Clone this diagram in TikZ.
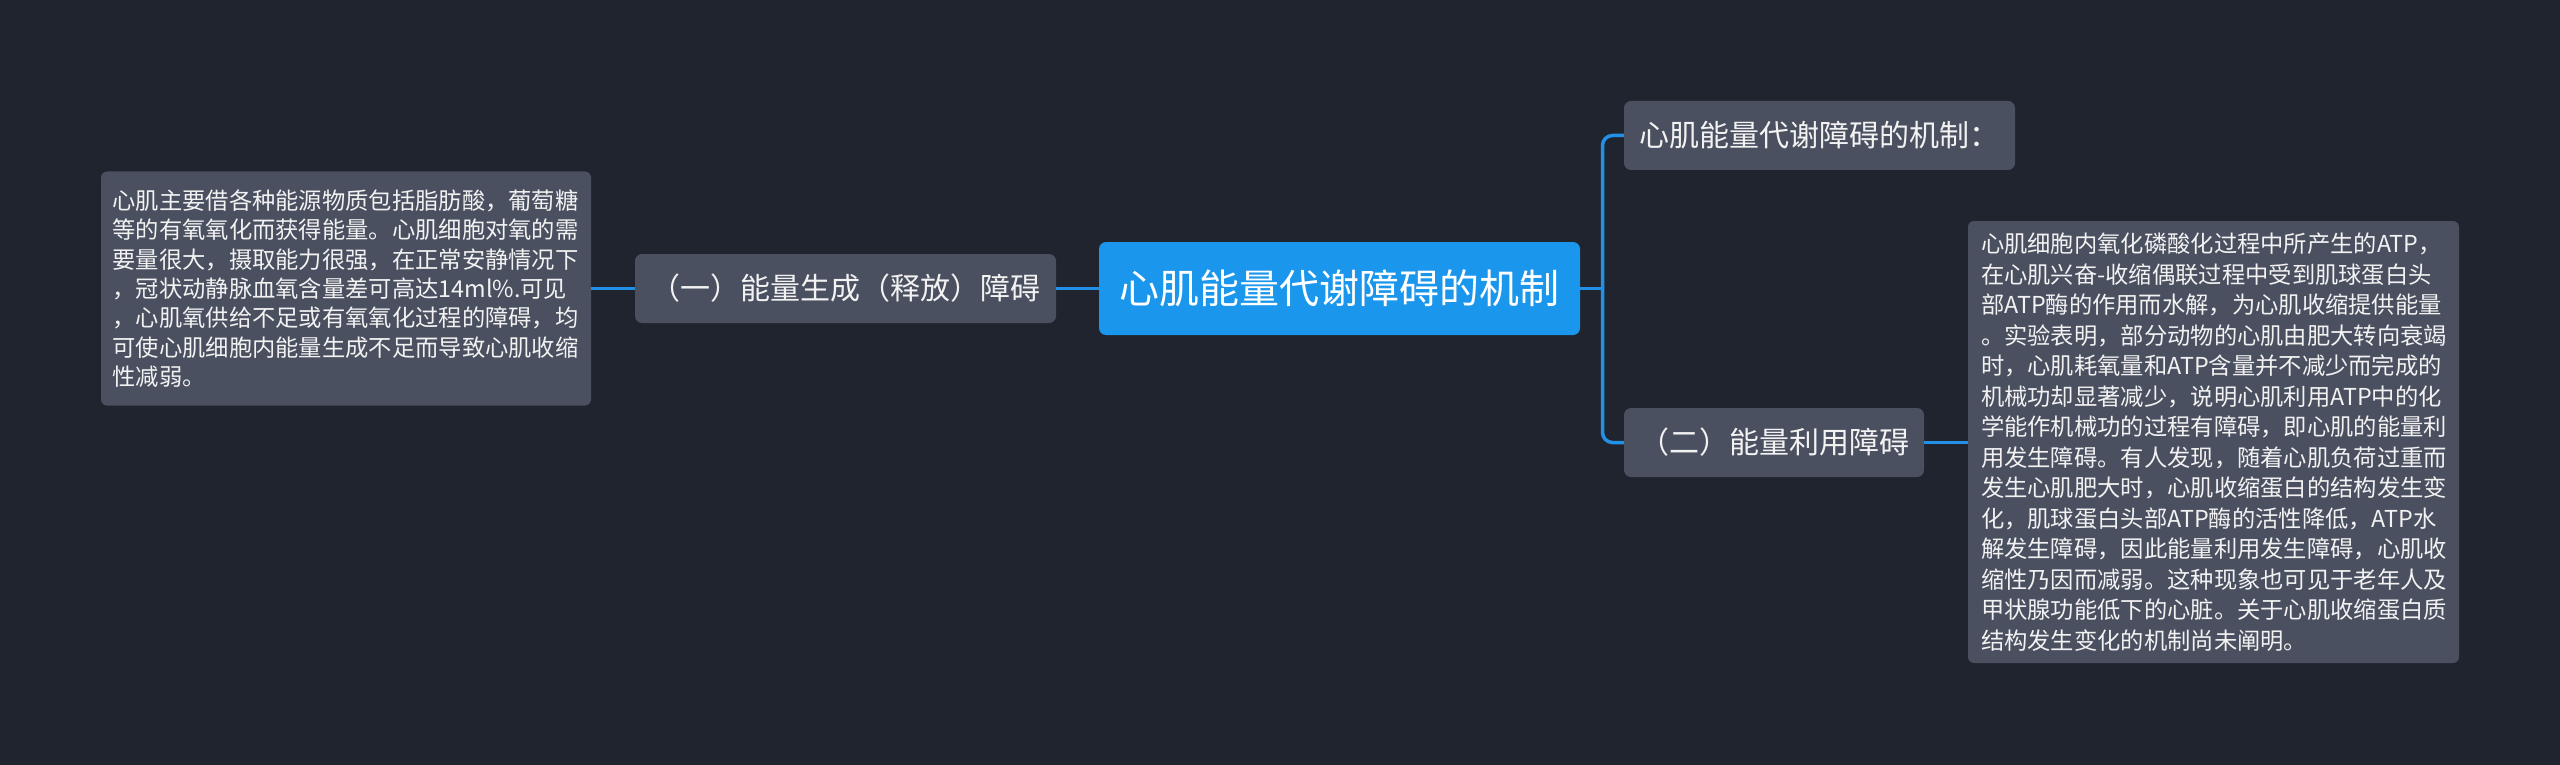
\documentclass[tikz,border=0pt]{standalone}
\usepackage{fontspec}
\setmainfont{Noto Sans CJK SC}
\definecolor{bgc}{HTML}{20242E}
\definecolor{nodec}{HTML}{4A5060}
\definecolor{mainc}{HTML}{1A96EC}
\definecolor{linec}{HTML}{2290E6}
\definecolor{txtc}{HTML}{F2F2F2}
\tikzset{
  box/.style={fill=nodec, rounded corners=7pt, text=txtc, inner sep=0pt, anchor=center},
  lvlone/.style={box, font=\fontsize{30}{36}\selectfont},
  detail/.style={box, rounded corners=6pt, align=left},
  rootbox/.style={box, fill=mainc, text=white, font=\fontsize{40}{48}\selectfont},
  conn/.style={draw=linec, line width=3.5pt}
}
\begin{document}
\begin{tikzpicture}[x=1pt,y=-1pt]
\fill[bgc] (0,0) rectangle (2560,765);
\useasboundingbox (0,0) rectangle (2560,765);

\node[rootbox, minimum width=481pt, minimum height=93pt] (root) at (1339.5,288.5) {心肌能量代谢障碍的机制};

\node[lvlone, minimum width=421pt, minimum height=69pt] (gen) at (845.5,288.5) {（一）能量生成（释放）障碍};

\node[lvlone, minimum width=391pt, minimum height=69pt] (mech) at (1819.5,135.5) {心肌能量代谢障碍的机制：};

\node[lvlone, minimum width=300pt, minimum height=69pt] (use) at (1774,442.5) {（二）能量利用障碍};

\node[detail, font=\fontsize{23.3}{29.3}\selectfont, text width=467pt, minimum width=490pt, minimum height=234pt] (gendet) at (346,288.5) {心肌主要借各种能源物质包括脂肪酸，葡萄糖\\
等的有氧氧化而获得能量。心肌细胞对氧的需\\
要量很大，摄取能力很强，在正常安静情况下\\
，冠状动静脉血氧含量差可高达14ml\%.可见\\
，心肌氧供给不足或有氧氧化过程的障碍，均\\
可使心肌细胞内能量生成不足而导致心肌收缩\\
性减弱。};

\node[detail, font=\fontsize{23.3}{30.5}\selectfont, text width=465pt, minimum width=491pt, minimum height=442pt] (usedet) at (2213.5,442) {心肌细胞内氧化磷酸化过程中所产生的ATP，\\
在心肌兴奋-收缩偶联过程中受到肌球蛋白头\\
部ATP酶的作用而水解，为心肌收缩提供能量\\
。实验表明，部分动物的心肌由肥大转向衰竭\\
时，心肌耗氧量和ATP含量并不减少而完成的\\
机械功却显著减少，说明心肌利用ATP中的化\\
学能作机械功的过程有障碍，即心肌的能量利\\
用发生障碍。有人发现，随着心肌负荷过重而\\
发生心肌肥大时，心肌收缩蛋白的结构发生变\\
化，肌球蛋白头部ATP酶的活性降低，ATP水\\
解发生障碍，因此能量利用发生障碍，心肌收\\
缩性乃因而减弱。这种现象也可见于老年人及\\
甲状腺功能低下的心脏。关于心肌收缩蛋白质\\
结构发生变化的机制尚未阐明。};

\coordinate (jx) at (1602.5,288.5);
\draw[conn] (root.east) -- (jx);
\draw[conn, rounded corners=10pt] (mech.west) -| (jx) |- (use.west);
\draw[conn] (use.east) -- (usedet.west |- use.east);
\draw[conn] (root.west) -- (gen.east);
\draw[conn] (gen.west) -- (gendet.east);
\end{tikzpicture}
\end{document}
